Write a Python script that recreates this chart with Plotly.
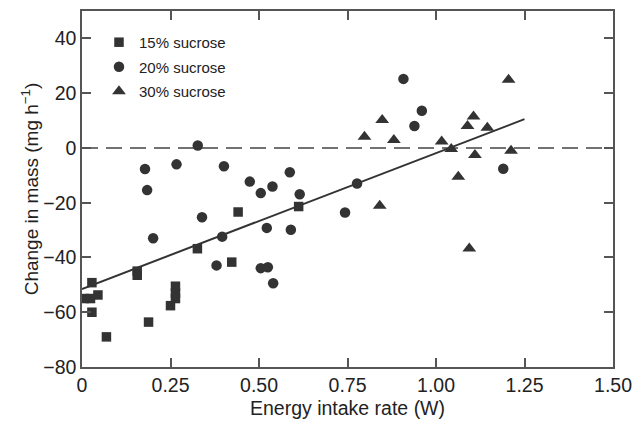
import plotly.graph_objects as go

# 15% sucrose (squares)
s15_x = [0.028, 0.007, 0.024, 0.045, 0.028, 0.069, 0.156, 0.156, 0.188, 0.250, 0.264, 0.264, 0.264, 0.326, 0.423, 0.441, 0.612]
s15_y = [-49.2, -55.0, -55.0, -53.7, -60.0, -69.0, -45.0, -46.5, -63.6, -57.6, -50.5, -53.0, -55.0, -36.8, -41.7, -23.4, -21.4]

# 20% sucrose (circles)
s20_x = [0.178, 0.184, 0.267, 0.327, 0.401, 0.201, 0.339, 0.396, 0.380, 0.474, 0.505, 0.538, 0.587, 0.615,
         0.522, 0.590, 0.505, 0.525, 0.540, 0.743, 0.777, 0.908, 0.960, 0.939, 1.190]
s20_y = [-7.7, -15.4, -6.0, 0.9, -6.7, -33.0, -25.3, -32.4, -42.9, -12.3, -16.5, -14.1, -8.9, -16.9,
         -29.2, -29.9, -43.9, -43.6, -49.4, -23.6, -13.0, 25.2, 13.6, 8.0, -7.6]

# 30% sucrose (triangles)
s30_x = [0.848, 0.798, 0.881, 0.841, 1.016, 1.043, 1.063, 1.089, 1.106, 1.110, 1.145, 1.094, 1.205, 1.212]
s30_y = [10.2, 4.1, 2.9, -21.1, 2.3, -0.4, -10.5, 8.0, 11.5, -2.6, 7.4, -36.7, 24.9, -1.0]

# regression line endpoints
fit_x = [0.0, 1.25]
fit_y = [-51.5, 10.5]

# zero reference line
zero_x = [0.0, 1.5]
zero_y = [0.0, 0.0]

x_ticks = [0, 0.25, 0.5, 0.75, 1.0, 1.25, 1.5]
x_labels = ["0", "0.25", "0.50", "0.75", "1.00", "1.25", "1.50"]
y_ticks = [-80, -60, -40, -20, 0, 20, 40]

mc = "#333333"
tc = "#222222"
font = "Liberation Sans, Arial, sans-serif"

fig = go.Figure()
fig.add_trace(go.Scatter(x=zero_x, y=zero_y, mode="lines", showlegend=False,
                         line=dict(color="#444444", width=1.5, dash="16px,8px"), hoverinfo="skip"))
fig.add_trace(go.Scatter(x=fit_x, y=fit_y, mode="lines", showlegend=False,
                         line=dict(color=mc, width=2), hoverinfo="skip"))
fig.add_trace(go.Scatter(x=s15_x, y=s15_y, mode="markers", name="15% sucrose", legendgroup="a",
                         marker=dict(symbol="square", size=9.5, color=mc)))
fig.add_trace(go.Scatter(x=s20_x, y=s20_y, mode="markers", name="20% sucrose", legendgroup="b",
                         marker=dict(symbol="circle", size=10.5, color=mc)))
fig.add_trace(go.Scatter(x=s30_x, y=s30_y, mode="markers", name="30% sucrose", legendgroup="c",
                         marker=dict(symbol="triangle-up", size=12, color=mc)))

axis_common = dict(showline=True, linecolor="#555555", linewidth=1.5, mirror="ticks",
                   ticks="inside", tickcolor="#555555", tickwidth=1.5, ticklen=9,
                   showgrid=False, zeroline=False,
                   tickfont=dict(family=font, size=19.5, color=tc))

fig.update_xaxes(range=[0, 1.5], tickvals=x_ticks, ticktext=x_labels,
                 title=dict(text="Energy intake rate (W)", font=dict(family=font, size=19.5, color=tc),
                            standoff=6),
                 **axis_common)
fig.update_yaxes(range=[-80, 50], tickvals=y_ticks,
                 title=dict(text="Change in mass (mg h<sup>−1</sup>)",
                            font=dict(family=font, size=19, color=tc), standoff=0),
                 **axis_common)

fig.update_layout(
    width=634, height=425,
    margin=dict(l=82, r=21, t=11, b=58, autoexpand=False),
    plot_bgcolor="white", paper_bgcolor="white",
    font=dict(family=font, color=tc),
    legend=dict(x=0.032, y=0.958, xanchor="left", yanchor="top",
                font=dict(family=font, size=15, color=tc),
                traceorder="grouped", tracegroupgap=2,
                bgcolor="rgba(0,0,0,0)", itemwidth=30),
)

fig.write_html("out.html", config={"displayModeBar": False},
               post_script="document.body.style.margin='0px';")
